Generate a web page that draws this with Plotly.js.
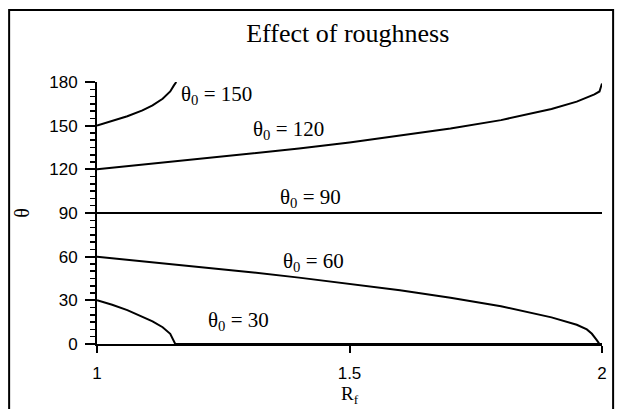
<!DOCTYPE html>
<html><head><meta charset="utf-8">
<script src="https://cdn.plot.ly/plotly-3.0.1.min.js"></script>
<style>body{margin:0;background:#fff}#c{width:621px;height:409px}</style>
</head><body><div id="c"></div>
<script>
// Values
const rf150 = [1.0, 1.03, 1.06, 1.09, 1.11, 1.13, 1.145, 1.152, 1.157];
const th150 = [150, 153, 156.5, 160.5, 164, 168.5, 173.5, 177.5, 180];
const rf120 = [1.0, 1.1, 1.2, 1.3, 1.4, 1.5, 1.6, 1.7, 1.8, 1.9, 1.95, 1.985, 1.995, 2.0];
const th120 = [120, 123.5, 127, 130.5, 134.3, 138.5, 143, 148, 153.8, 161.5, 166.5, 171.5, 173.5, 179];
const rf90 = [1.0, 2.0];
const th90 = [90, 90];
const rf60 = [1.0, 1.1, 1.2, 1.3, 1.4, 1.5, 1.6, 1.7, 1.8, 1.9, 1.95, 1.97, 1.98, 1.99, 1.995];
const th60 = [60, 56.6, 53.1, 49.5, 45.6, 41.4, 36.9, 31.8, 25.9, 18.3, 13.2, 10, 7, 2.5, 0];
const rf30 = [1.0, 1.03, 1.06, 1.09, 1.11, 1.13, 1.145, 1.155, 2.0];
const th30 = [30, 27, 23.3, 19, 15.6, 11.5, 7, 0, 0];

const labels = ["θ<sub>0</sub> = 150", "θ<sub>0</sub> = 120", "θ<sub>0</sub> = 90", "θ<sub>0</sub> = 60", "θ<sub>0</sub> = 30"];
const labelX = [1.236, 1.38, 1.422, 1.428, 1.28];
const labelY = [171, 147, 100.5, 56.5, 15.5];

const yTicks = [0, 30, 60, 90, 120, 150, 180];
const xTicks = [1, 1.5, 2];
const xTickText = ["1", "1.5", "2"];

const line = {color: '#000', width: 2};
const traces = [[rf150, th150], [rf120, th120], [rf90, th90], [rf60, th60], [rf30, th30]].map(([x, y]) => ({
  x: x, y: y, type: 'scatter', mode: 'lines', line: line, hoverinfo: 'skip', showlegend: false
}));

const serif = 'Liberation Serif, Times New Roman, serif';
const sans = 'Liberation Sans, Arial, sans-serif';

const annotations = labels.map((t, i) => ({
  x: labelX[i], y: labelY[i], xref: 'x', yref: 'y', text: t, showarrow: false,
  font: {family: serif, size: 21, color: '#000'}
}));

const layout = {
  width: 621, height: 409,
  margin: {l: 97, r: 19, t: 82, b: 65},
  paper_bgcolor: '#fff', plot_bgcolor: '#fff',
  title: {text: 'Effect of roughness', x: 0.56, xanchor: 'center', y: 0.919, yanchor: 'middle',
          font: {family: serif, size: 26, color: '#000'}},
  xaxis: {
    range: [1, 2], tickvals: xTicks, ticktext: xTickText, showgrid: false, zeroline: false,
    showline: true, linecolor: '#000', linewidth: 2, ticks: 'outside', ticklen: 7, tickwidth: 2, tickcolor: '#000',
    tickfont: {family: sans, size: 17, color: '#000'},
    ticklabelstandoff: 6,
    title: {text: 'R<sub>f</sub>', standoff: 2, font: {family: serif, size: 19, color: '#000'}}
  },
  yaxis: {
    range: [0, 180], tickvals: yTicks, showgrid: false, zeroline: false,
    showline: true, linecolor: '#000', linewidth: 2, ticks: 'outside', ticklen: 10, tickwidth: 2, tickcolor: '#000',
    minor: {dtick: 5, ticks: 'outside', ticklen: 5, tickwidth: 1.5, tickcolor: '#000', showgrid: false},
    tickfont: {family: sans, size: 17, color: '#000'},
    ticklabelstandoff: 4,
    title: {text: 'θ', standoff: 14, font: {family: serif, size: 20, color: '#000'}}
  },
  shapes: [{type: 'rect', xref: 'paper', yref: 'paper', x0: -0.174, x1: 1.022, y0: -0.4, y1: 1.275,
            line: {color: '#000', width: 2}, fillcolor: 'rgba(0,0,0,0)', layer: 'below'}],
  annotations: annotations
};

Plotly.newPlot('c', traces, layout, {staticPlot: true, displayModeBar: false});
</script></body></html>
